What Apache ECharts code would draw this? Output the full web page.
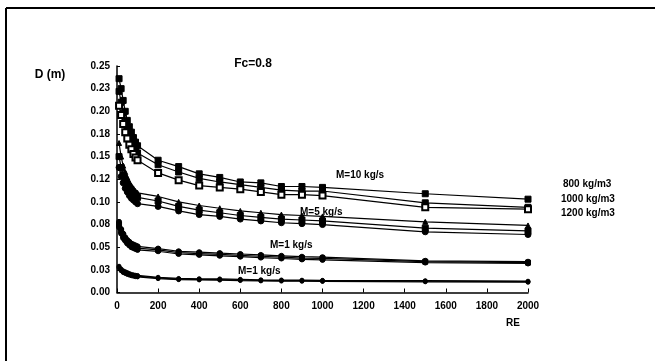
<!DOCTYPE html>
<html><head><meta charset="utf-8">
<script src="https://cdn.jsdelivr.net/npm/echarts@6/dist/echarts.min.js"></script>
<style>html,body{margin:0;padding:0;background:#fff}#c{width:655px;height:361px}</style>
</head><body><div id="c"></div>
<script>
// RE values (x)
var re = [10,20,30,40,50,60,70,80,90,100,200,300,400,500,600,700,800,900,1000,1500,2000];
// y tick labels as printed
var yTickLabels = ['0.00','0.03','0.05','0.08','0.10','0.12','0.15','0.18','0.20','0.23','0.25'];
// M = 10 kg/s
var m10_800  = [0.236,0.225,0.212,0.200,0.190,0.183,0.177,0.171,0.166,0.162,0.146,0.139,0.131,0.127,0.122,0.121,0.117,0.117,0.116,0.109,0.103];
var m10_1000 = [0.222,0.210,0.198,0.188,0.180,0.173,0.167,0.162,0.158,0.154,0.141,0.133,0.126,0.122,0.119,0.116,0.113,0.112,0.112,0.099,0.094];
var m10_1200 = [0.206,0.196,0.186,0.177,0.170,0.163,0.158,0.153,0.149,0.146,0.132,0.124,0.118,0.116,0.114,0.111,0.108,0.108,0.107,0.094,0.092];
// M = 5 kg/s
var m5_800  = [0.165,0.150,0.140,0.133,0.127,0.122,0.118,0.115,0.112,0.110,0.106,0.100,0.096,0.093,0.090,0.088,0.086,0.085,0.084,0.078,0.074];
var m5_1000 = [0.150,0.138,0.130,0.124,0.119,0.115,0.112,0.109,0.107,0.105,0.101,0.095,0.091,0.088,0.085,0.083,0.081,0.080,0.079,0.071,0.068];
var m5_1200 = [0.138,0.128,0.121,0.115,0.111,0.107,0.104,0.102,0.100,0.098,0.095,0.090,0.086,0.084,0.081,0.079,0.077,0.076,0.075,0.067,0.064];
// M = 1 kg/s (upper group)
var m1a_800  = [0.078,0.070,0.065,0.061,0.058,0.056,0.054,0.053,0.052,0.051,0.0485,0.0455,0.0445,0.0435,0.0425,0.0415,0.0405,0.0395,0.039,0.035,0.034];
var m1a_1000 = [0.075,0.068,0.063,0.059,0.056,0.054,0.052,0.051,0.050,0.049,0.047,0.044,0.043,0.042,0.041,0.040,0.039,0.038,0.0377,0.034,0.033];
var m1a_1200 = [0.072,0.065,0.060,0.057,0.054,0.052,0.050,0.049,0.048,0.047,0.0455,0.0425,0.0415,0.0405,0.0395,0.0385,0.0375,0.0365,0.036,0.033,0.032];
// M = 1 kg/s (lower group)
var m1b_800  = [0.029,0.026,0.024,0.023,0.022,0.021,0.020,0.0195,0.019,0.0188,0.0168,0.0155,0.0152,0.015,0.0145,0.014,0.0138,0.0136,0.0134,0.013,0.0125];
var m1b_1000 = [0.028,0.025,0.023,0.022,0.021,0.020,0.0193,0.0188,0.0183,0.018,0.016,0.0148,0.0145,0.0143,0.0138,0.0134,0.0132,0.013,0.0128,0.0124,0.0119];
var m1b_1200 = [0.027,0.024,0.022,0.021,0.020,0.0192,0.0185,0.018,0.0175,0.0172,0.0153,0.0142,0.0139,0.0137,0.0132,0.0128,0.0126,0.0124,0.0122,0.0118,0.0113];

var annotations = ['Fc=0.8','D (m)','M=10 kg/s','M=5 kg/s','M=1 kg/s','M=1 kg/s','800 kg/m3','1000 kg/m3','1200 kg/m3','RE'];

var FONT = '"Liberation Sans", Arial, sans-serif';
function mk(arr, sym, size) {
  return {
    type: 'line',
    data: re.map(function (x, i) { return [x, arr[i]]; }),
    symbol: sym, symbolSize: size || 5,
    lineStyle: { color: '#000', width: 1.2 },
    itemStyle: { color: '#000', borderColor: '#000', borderWidth: 1 },
    emphasis: { disabled: true },
    z: 3
  };
}
var chart = echarts.init(document.getElementById('c'), null, { renderer: 'canvas' });
function txt(t, x, y, size, align) {
  return { type: 'text', x: x, y: y,
    style: { text: t, font: 'bold ' + (size || 10) + 'px ' + FONT, fill: '#000',
      textAlign: align || 'left', textVerticalAlign: 'middle' } };
}
chart.setOption({
  animation: false,
  backgroundColor: '#fff',
  grid: { left: 117, right: 127, top: 66, bottom: 68.5, containLabel: false },
  xAxis: {
    type: 'value', min: 0, max: 2000, interval: 200,
    axisLine: { lineStyle: { color: '#000', width: 1.5 } },
    axisTick: { inside: true, length: 4, lineStyle: { color: '#000' } },
    axisLabel: { color: '#000', fontFamily: FONT, fontWeight: 'bold', fontSize: 10, margin: 9,
      formatter: function (v) { return String(v); } },
    splitLine: { show: false }
  },
  yAxis: {
    type: 'value', min: 0, max: 0.25, interval: 0.025,
    axisLine: { show: true, lineStyle: { color: '#000', width: 1.5 } },
    axisTick: { show: true, inside: true, length: 3, lineStyle: { color: '#000' } },
    axisLabel: { color: '#000', fontFamily: FONT, fontWeight: 'bold', fontSize: 10, margin: 7,
      formatter: function (v) { return yTickLabels[Math.round(v / 0.025)]; } },
    splitLine: { show: false }
  },
  series: [
    mk(m10_800, 'rect', 6), mk(m10_1000, 'rect', 6), mk(m10_1200, 'emptyRect', 6),
    mk(m5_800, 'triangle', 5), mk(m5_1000, 'rect', 6), mk(m5_1200, 'circle', 6),
    mk(m1a_800, 'circle', 5), mk(m1a_1000, 'rect', 5), mk(m1a_1200, 'circle', 5),
    mk(m1b_800, 'circle', 4), mk(m1b_1000, 'circle', 4), mk(m1b_1200, 'circle', 4)
  ],
  graphic: [
    { type: 'line', shape: { x1: 6, y1: 8, x2: 655, y2: 8 }, style: { stroke: '#000', lineWidth: 2 } },
    { type: 'line', shape: { x1: 6, y1: 8, x2: 6, y2: 361 }, style: { stroke: '#000', lineWidth: 2 } },
    txt(annotations[0], 253, 64, 12, 'center'),
    txt(annotations[1], 50, 75, 12, 'center'),
    txt(annotations[2], 336, 175, 10),
    txt(annotations[3], 300, 212, 10),
    txt(annotations[4], 270, 245, 10),
    txt(annotations[5], 238, 271, 10),
    txt(annotations[6], 563, 184, 10),
    txt(annotations[7], 561, 199, 10),
    txt(annotations[8], 561, 213, 10),
    txt(annotations[9], 513, 323, 10, 'center')
  ]
});
</script></body></html>
